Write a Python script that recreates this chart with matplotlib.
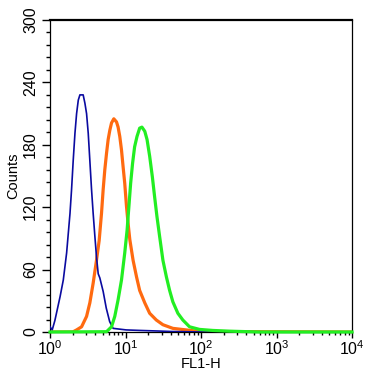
import math
import matplotlib
matplotlib.use("Agg")
import matplotlib.pyplot as plt
from matplotlib.ticker import FixedLocator, FuncFormatter, LogLocator, NullFormatter

plt.rcParams['font.family'] = ['Liberation Sans', 'DejaVu Sans']
plt.rcParams['mathtext.fontset'] = 'custom'
plt.rcParams['mathtext.rm'] = 'Liberation Sans'
plt.rcParams['mathtext.it'] = 'Liberation Sans'

# ---- data (FL1-H value, counts) ----
blue_x = [1.00, 1.07, 1.16, 1.36, 1.50, 1.66, 1.84, 1.93, 2.03, 2.14, 2.25, 2.37, 2.49,
          2.75, 2.90, 3.05, 3.21, 3.37, 3.55, 3.73, 3.93, 4.13, 4.35, 4.57, 5.06, 5.56,
          6.17, 6.85, 10.2, 15.5, 25.7, 40.0, 100.0, 10000.0]
blue_y = [5, 2, 11, 34, 50, 76, 114, 137, 165, 191, 210, 223, 228,
          228, 220, 210, 191, 165, 137, 114, 92, 72, 56, 52, 39, 23,
          10, 3.5, 2, 1.5, 1, 0.5, 0, 0]

orange_x = [1.00, 2.00, 2.25, 2.62, 3.05, 3.37, 3.73, 4.13, 4.48, 4.81, 5.06, 5.32, 5.61,
            5.89, 6.20, 6.53, 7.00, 7.60, 7.98, 8.40, 8.85, 9.29, 9.77, 10.3, 10.8,
            11.4, 12.6, 14.0, 15.4, 18.0, 20.9, 25.6, 31.3, 42.4, 63.8, 95.0, 10000.0]
orange_y = [0, 0, 2, 5, 15, 28, 47, 69, 88, 114, 137, 156, 172,
            185, 194, 201, 205, 202, 197, 188, 175, 159, 143, 121, 105,
            89, 69, 53, 40, 28, 18, 11.5, 7, 3.5, 2, 0.5, 0]

green_x = [1.00, 5.61, 6.53, 7.21, 7.98, 8.85, 9.77, 10.5, 11.1, 11.7, 12.4, 13.2, 14.2,
           15.4, 16.5, 18.0, 19.3, 20.9, 22.7, 24.3, 26.1, 28.3, 31.3, 34.8, 38.4,
           42.4, 49.4, 57.5, 70.5, 95.5, 143.0, 238.0, 590.0, 10000.0]
green_y = [0, 0.3, 5, 15, 31, 50, 76, 98, 121, 143, 162, 178, 188,
           196, 197, 193, 185, 169, 149, 130, 111, 92, 69, 53, 40,
           29, 18, 11.5, 5, 2.5, 1.5, 0.8, 0, 0]

x_major = [1, 10, 100, 1000, 10000]
y_major = [0, 60, 120, 180, 240, 300]
y_minor = [12, 24, 36, 48, 72, 84, 96, 108, 132, 144, 156, 168, 192, 204, 216, 228,
           252, 264, 276, 288]

fig = plt.figure(figsize=(3.88, 3.84), dpi=100)
ax = fig.add_axes([50/388, 1-332/384, 302/388, 312/384])

ax.plot(orange_x, orange_y, color='#FF6A10', lw=2.3, zorder=2)
ax.plot(blue_x, blue_y, color='#0A0AA0', lw=1.2, zorder=3)
ax.plot(green_x, green_y, color='#22EE22', lw=2.3, zorder=4, clip_on=False)

ax.set_xscale('log')
ax.set_xlim(1, 10000)
ax.set_ylim(0, 300)

ax.xaxis.set_major_locator(FixedLocator(x_major))
ax.xaxis.set_major_formatter(FuncFormatter(
    lambda v, p: r'$\mathregular{10^{%d}}$' % round(math.log10(v))))
ax.xaxis.set_minor_locator(LogLocator(base=10, subs=range(2, 10), numticks=20))
ax.xaxis.set_minor_formatter(NullFormatter())

ax.yaxis.set_major_locator(FixedLocator(y_major))
ax.yaxis.set_minor_locator(FixedLocator(y_minor))
ax.set_yticklabels([str(v) for v in y_major], rotation=90, va='center')

ax.tick_params(axis='x', which='major', direction='out', length=4, width=1, labelsize=11.5, pad=1.5)
ax.tick_params(axis='x', which='minor', direction='out', length=2.3, width=1)
ax.tick_params(axis='y', which='major', direction='out', length=5.5, width=1, labelsize=11.5, pad=3)
ax.tick_params(axis='y', which='minor', direction='out', length=3.2, width=1)

for s in ['left', 'right', 'bottom']:
    ax.spines[s].set_linewidth(0.9)
ax.spines['top'].set_linewidth(1.6)

ax.set_xlabel('FL1-H', fontsize=10.5, labelpad=-1)
ax.set_ylabel('Counts', fontsize=10.5, labelpad=2)

fig.savefig('out.png', dpi=100)
